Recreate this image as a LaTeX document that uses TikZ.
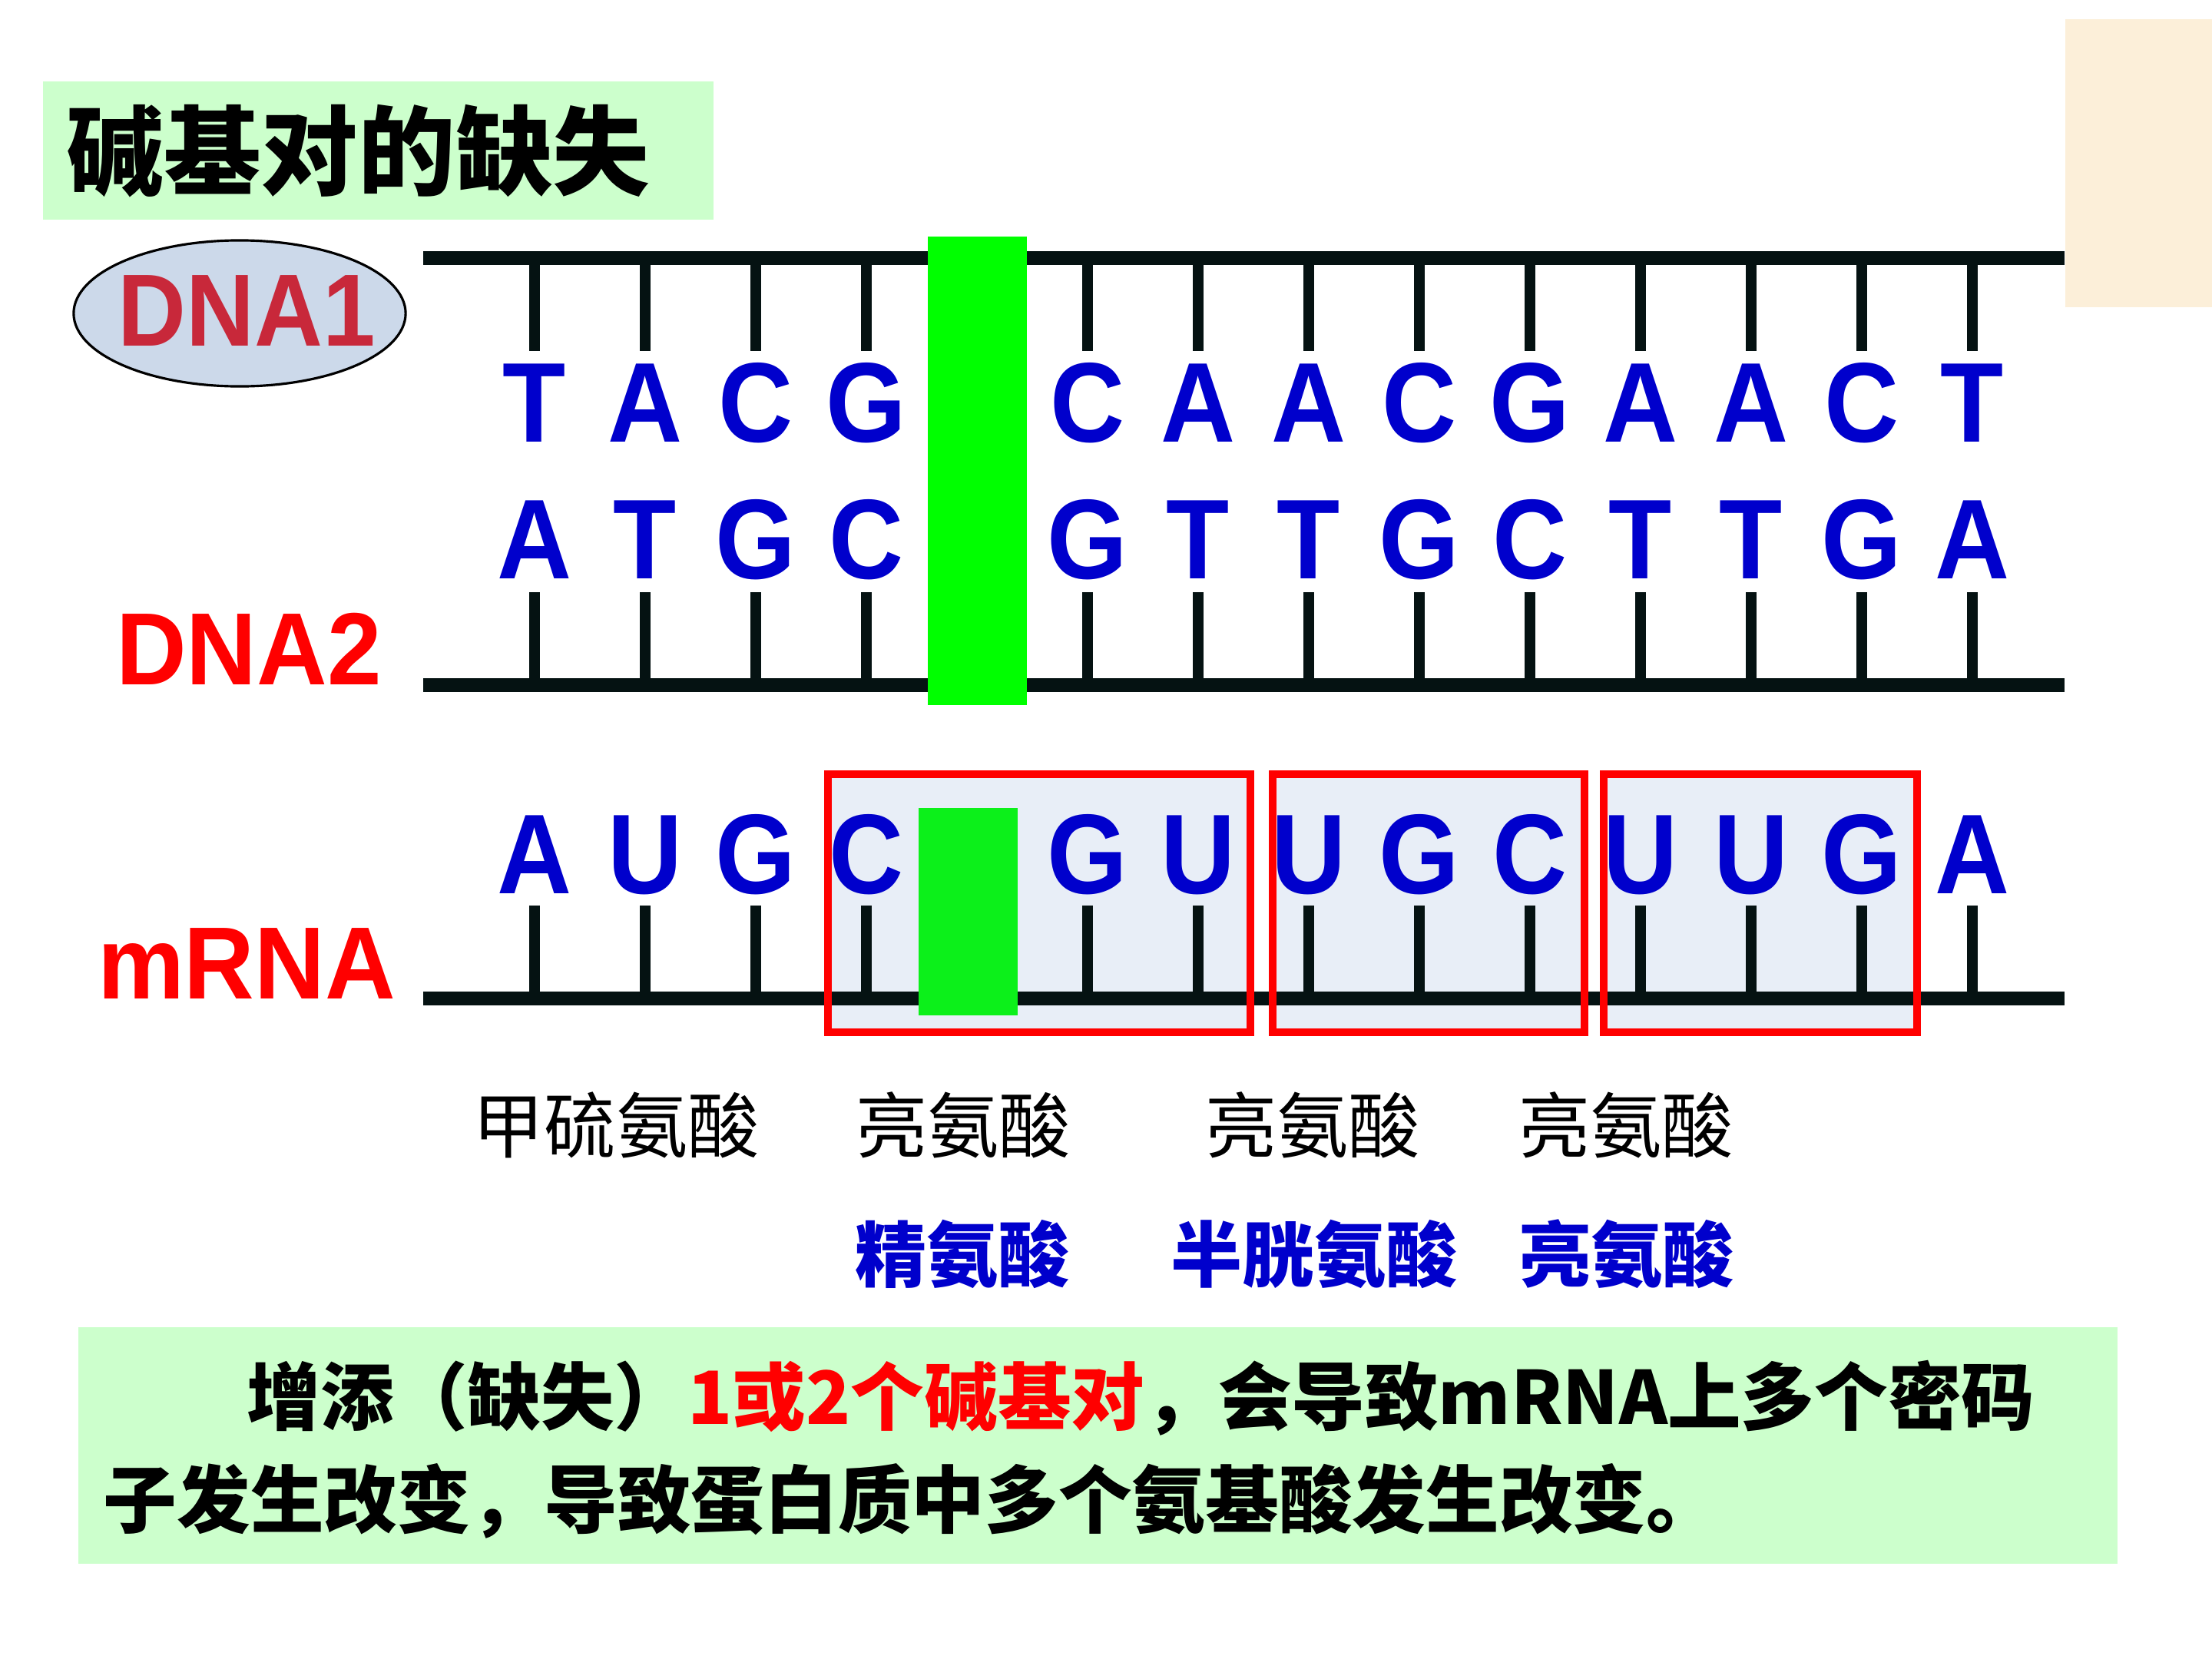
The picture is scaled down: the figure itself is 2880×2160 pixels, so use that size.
\documentclass[tikz,border=0pt]{standalone}
\usepackage{fontspec}
\usepackage{graphicx}
\usetikzlibrary{shapes.geometric}
\setmainfont{Liberation Sans}
\newfontfamily\nucfont[FakeStretch=0.91]{Liberation Sans}
\newfontfamily\labfont[FakeStretch=0.95]{Liberation Sans}
\newfontfamily\cjk{Noto Sans CJK SC}
\definecolor{lgreen}{HTML}{CCFFCC}
\definecolor{bblue}{HTML}{0000CC}
\definecolor{dnaone}{HTML}{C8283A}
\definecolor{strand}{HTML}{051212}
\definecolor{gbar}{HTML}{00FF00}
\definecolor{gbartwo}{HTML}{0CF01A}
\definecolor{boxfill}{HTML}{E8EEF7}
\definecolor{ellfill}{HTML}{CCD9EA}
\definecolor{beige}{HTML}{FCEFD9}
\tikzset{
  nuc/.style={font=\nucfont\bfseries\fontsize{42}{42}\selectfont, text=bblue, inner sep=0, anchor=base},
  backbone/.style={line width=4.9pt, draw=strand},
  rung/.style={line width=4pt, draw=strand},
  codonfill/.style={fill=boxfill},
  codonline/.style={draw=red, line width=2.6pt},
  aa/.style={font=\cjk\fontsize{26.5}{26.5}\selectfont, inner sep=0},
  aab/.style={font=\cjk\bfseries\fontsize{26.5}{26.5}\selectfont, text=bblue, inner sep=0},
  lab/.style={font=\labfont\bfseries\fontsize{38}{38}\selectfont, inner sep=0, anchor=base},
  txt/.style={font=\cjk\bfseries\fontsize{27.2}{27.2}\selectfont, inner sep=0, anchor=west},
}
\begin{document}
\begin{tikzpicture}[x=0.01cm,y=-0.01cm]
\useasboundingbox (0,0) rectangle (2880,2160);
\fill[white] (0,0) rectangle (2880,2160);
% title
\node[fill=lgreen, minimum width=8.73cm, minimum height=1.8cm, anchor=north west, inner sep=0] (titlebox) at (55,105) {};
\node[font=\cjk\bfseries\fontsize{36}{36}\selectfont, anchor=west, inner sep=0] (title) at (86,197) {碱基对的缺失};
% beige patch
\node[fill=beige, minimum width=1.92cm, minimum height=3.75cm, anchor=north west, inner sep=0] (patch) at (2688,24) {};
% codon box fills
\fill[codonfill] (1078,1008) rectangle (1628,1344);
\fill[codonfill] (1657,1008) rectangle (2063,1344);
\fill[codonfill] (2088,1008) rectangle (2496,1344);
% rungs and bases
\foreach \k/\a/\b/\m in {0/T/A/A,1/A/T/U,2/C/G/G,3/G/C/C,5/C/G/G,6/A/T/U,7/A/T/U,8/C/G/G,9/G/C/C,10/A/T/U,11/A/T/U,12/C/G/G,13/T/A/A} {
  \pgfmathsetmacro\xx{696+144*\k}
  \draw[rung] (\xx,336) -- (\xx,457);
  \draw[rung] (\xx,771) -- (\xx,892);
  \draw[rung] (\xx,1179) -- (\xx,1300);
  \node[nuc] (t\k) at (\xx,575) {\a};
  \node[nuc] (b\k) at (\xx,753) {\b};
  \node[nuc] (m\k) at (\xx,1163) {\m};
}
% backbones
\coordinate (s1a) at (551,336); \coordinate (s1b) at (2688,336);
\coordinate (s2a) at (551,892); \coordinate (s2b) at (2688,892);
\coordinate (s3a) at (551,1300); \coordinate (s3b) at (2688,1300);
\draw[backbone] (s1a) -- (s1b);
\draw[backbone] (s2a) -- (s2b);
\draw[backbone] (s3a) -- (s3b);
% deletion bars
\fill[gbar] (1208,308) rectangle (1337,918);
\fill[gbartwo] (1196,1052) rectangle (1325,1322);
% codon outlines
\draw[codonline] (1078,1008) rectangle (1628,1344);
\draw[codonline] (1657,1008) rectangle (2063,1344);
\draw[codonline] (2088,1008) rectangle (2496,1344);
% labels
\node[ellipse, draw, line width=0.9pt, fill=ellfill, minimum width=4.32cm, minimum height=1.9cm, inner sep=0] (ell) at (312,408) {};
\node[lab, text=dnaone] (dna1) at (321,450) {\scalebox{0.97}[1]{DNA1}};
\node[lab, text=red] (dna2) at (324,891) {DNA2};
\node[lab, text=red] (mrna) at (321,1300) {mRNA};
% amino acids
\node[aa] (a1) at (802,1465) {甲硫氨酸};
\node[aa] (a2) at (1254,1465) {亮氨酸};
\node[aa] (a3) at (1709,1465) {亮氨酸};
\node[aa] (a4) at (2117,1465) {亮氨酸};
\node[aab] (n2) at (1253,1633) {精氨酸};
\node[aab] (n3) at (1711,1633) {半胱氨酸};
\node[aab] (n4) at (2118,1633) {亮氨酸};
% note
\node[fill=lgreen, anchor=north west, minimum width=26.54cm, minimum height=3.08cm, inner sep=0] (note) at (101,1727) {};
\node[txt] (l1) at (321,1820) {增添（缺失）\textcolor{red}{1或2个碱基对}，会导致mRNA上多个密码};
\node[txt] (l2) at (134,1954) {子发生改变，导致蛋白质中多个氨基酸发生改变。};
\end{tikzpicture}
\end{document}
